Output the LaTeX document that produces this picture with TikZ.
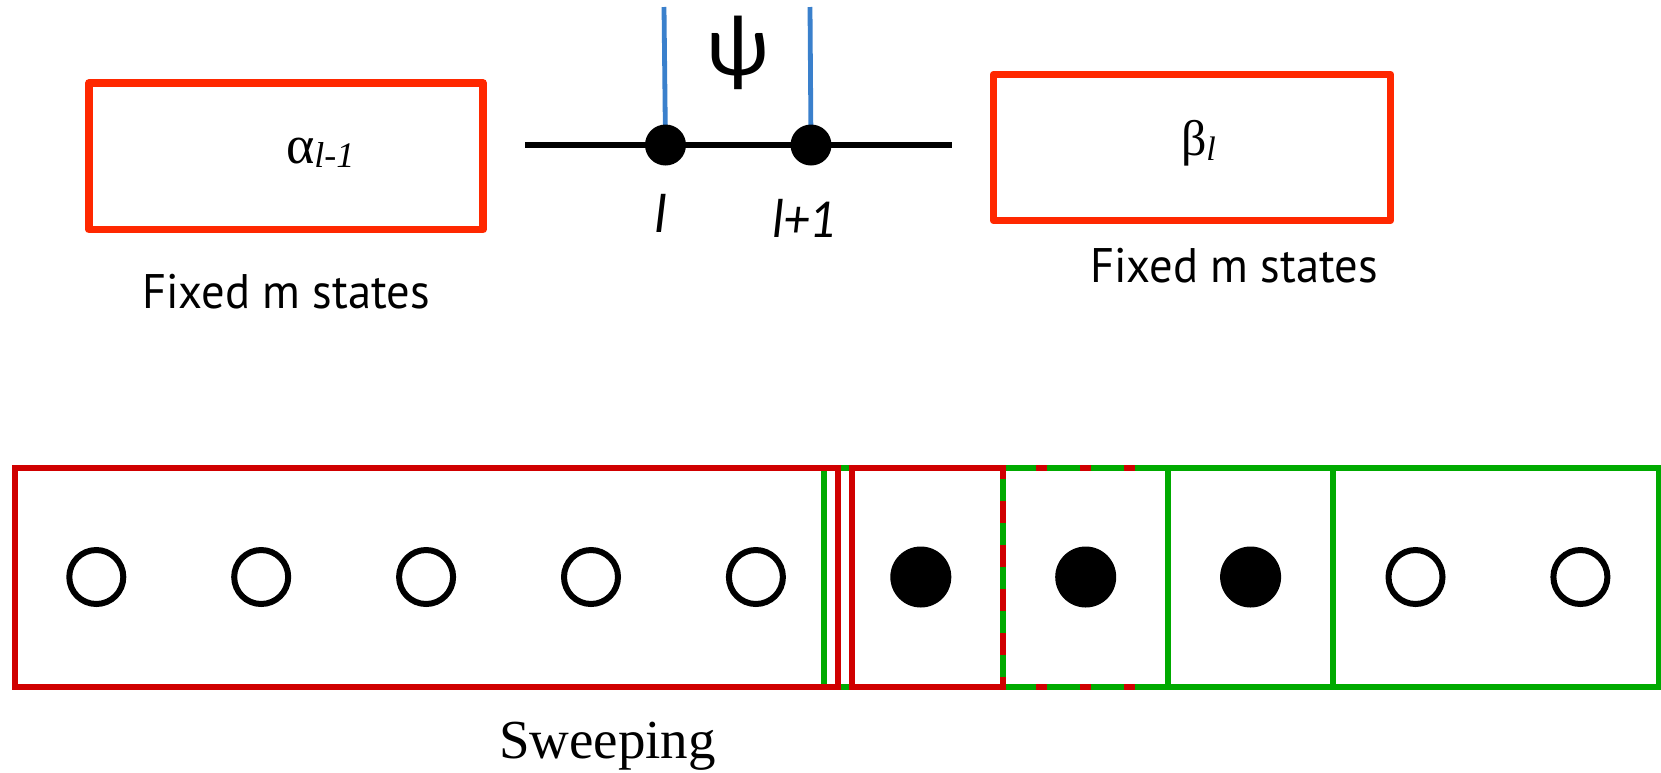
\documentclass[tikz,border=0pt]{standalone}
\usepackage{fontspec}
\setmainfont{Liberation Serif}
\newfontfamily\gillfont{PT Sans}
\newfontfamily\califont{Carlito}
\definecolor{topred}{RGB}{255,40,0}
\definecolor{botred}{RGB}{208,0,0}
\definecolor{botgreen}{RGB}{0,170,0}
\definecolor{wireblue}{RGB}{58,128,204}
\begin{document}
\begin{tikzpicture}[x=1pt,y=-1pt,
  topbox/.style={draw=topred,line width=7.5pt,line join=round},
  wire/.style={black,line width=5.5pt},
  leg/.style={wireblue,line width=4.8pt},
  bigdot/.style={circle,fill=black,inner sep=0pt,minimum size=41pt},
  redline/.style={botred,line width=6pt},
  greenline/.style={botgreen,line width=6pt},
  opensite/.style={circle,draw=black,line width=6pt,inner sep=0pt,minimum size=54pt},
  fullsite/.style={circle,fill=black,inner sep=0pt,minimum size=61pt},
  txt/.style={inner sep=0pt,outer sep=0pt},
  fixtxt/.style={txt,anchor=base west,font=\gillfont\fontsize{48.5}{54}\selectfont},
  sitelabel/.style={txt,anchor=base,font=\califont\itshape\fontsize{55}{60}\selectfont}]
\useasboundingbox (0,0) rectangle (1661,772);

% ---------- top part ----------
\draw[topbox] (89,83) rectangle (483,229.5);
\draw[topbox] (993.5,74.5) rectangle (1390.5,220.5);

\node[txt,anchor=base west] (alpha) at (286,163)
  {\fontsize{54}{60}\selectfont α\raisebox{-4pt}{\fontsize{36}{40}\selectfont\itshape l-1}};
\node[txt,anchor=base west] (beta) at (1181,155)
  {\fontsize{50}{54}\selectfont β\raisebox{-5pt}{\fontsize{34}{38}\selectfont\itshape l}};

\node[fixtxt] (fixL) at (142,308) {\scalebox{0.96}[1]{Fixed m states}};
\node[fixtxt] (fixR) at (1090,282) {\scalebox{0.96}[1]{Fixed m states}};

\coordinate (wl) at (525,145);
\coordinate (wr) at (952,145);
\coordinate (c1) at (665.5,145);
\coordinate (c2) at (811,145);
\coordinate (t1) at (664,7);
\coordinate (t2) at (810,7);
\draw[wire] (wl) -- (c1) -- (c2) -- (wr);
\draw[leg] (t1) -- (c1);
\draw[leg] (t2) -- (c2);
\node[bigdot] (d1) at (c1) {};
\node[bigdot] (d2) at (c2) {};

\node[txt] (psi) at (738,53) {\califont\fontsize{88}{94}\selectfont ψ};
\node[sitelabel] (lab1) at (661,232) {l};
\node[sitelabel] (lab2) at (804,237) {\scalebox{0.92}[1]{l+1}};

% ---------- bottom part ----------
\draw[greenline] (824,468) rectangle (1659,687);
\draw[greenline] (1003,468) -- (1003,687);
\draw[greenline] (1168,468) -- (1168,687);
\draw[greenline] (1333,468) -- (1333,687);

\draw[redline] (14.5,468) rectangle (838,687);
\draw[redline,line cap=rect] (1003,468) -- (852,468) -- (852,687) -- (1003,687);
\draw[redline,dash pattern=on 22pt off 22pt,dash phase=11pt] (1003,468) -- (1003,687);
\draw[redline,dash pattern=on 11pt off 33pt,dash phase=11pt] (1003,468) -- (1135,468);
\draw[redline,dash pattern=on 11pt off 33pt,dash phase=11pt] (1003,687) -- (1135,687);

\foreach \i/\x in {1/96.3,2/261.2,3/426.1,4/591,5/755.9,9/1415.5,10/1580.4}
  \node[opensite] (s\i) at (\x,577) {};
\foreach \i/\x in {6/920.8,7/1085.7,8/1250.6}
  \node[fullsite] (s\i) at (\x,577) {};

\node[txt,anchor=base west] (sweep) at (499,758) {\fontsize{55}{60}\selectfont Sweeping};
\end{tikzpicture}
\end{document}
